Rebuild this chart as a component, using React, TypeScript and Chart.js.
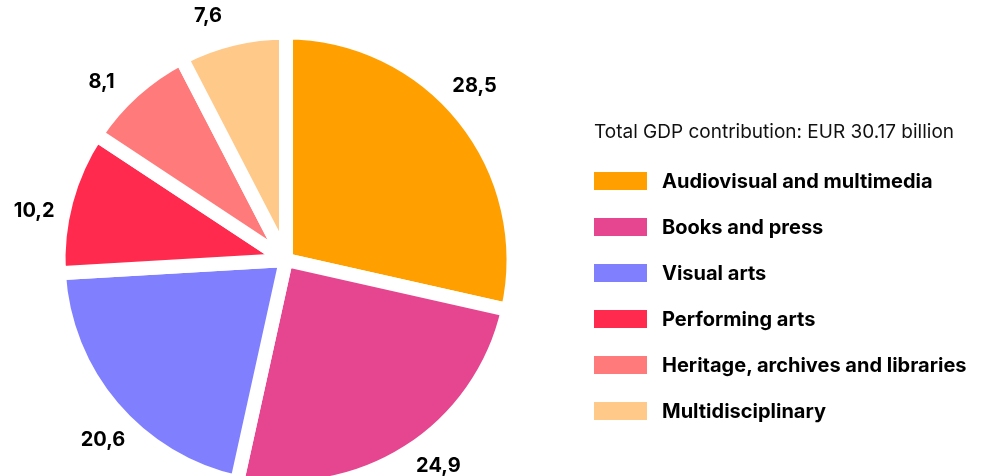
import React, { useEffect, useRef } from "react";
import { Chart, registerables } from "chart.js";

Chart.register(...registerables);

const categories = [
  "Audiovisual and multimedia",
  "Books and press",
  "Visual arts",
  "Performing arts",
  "Heritage, archives and libraries",
  "Multidisciplinary",
];
const values = [28.5, 24.9, 20.6, 10.2, 8.1, 7.6];
const colors = ["#FFA000", "#E5468F", "#8080FF", "#FF2A4D", "#FF7B7B", "#FFC98A"];
const legendTitle = "Total GDP contribution: EUR 30.17 billion";

const FONT = "Inter, 'DejaVu Sans', sans-serif";

const valueLabels = {
  id: "valueLabels",
  afterDatasetsDraw(chart: any) {
    const ctx = chart.ctx;
    const meta = chart.getDatasetMeta(0);
    ctx.save();
    ctx.font = `bold 20px ${FONT}`;
    ctx.fillStyle = "#000";
    ctx.textAlign = "center";
    ctx.textBaseline = "middle";
    meta.data.forEach((arc: any, i: number) => {
      const { x, y, startAngle, endAngle, outerRadius } = arc.getProps(
        ["x", "y", "startAngle", "endAngle", "outerRadius"],
        true
      );
      const mid = (startAngle + endAngle) / 2 - 0.07;
      const r = outerRadius + 29;
      const txt = values[i].toFixed(1).replace(".", ",");
      ctx.fillText(txt, x + Math.cos(mid) * r, y + Math.sin(mid) * r);
    });
    ctx.restore();
  },
};

export default function App() {
  const canvasRef = useRef<HTMLCanvasElement | null>(null);

  useEffect(() => {
    if (!canvasRef.current) return;
    const chart = new Chart(canvasRef.current, {
      type: "pie",
      data: {
        labels: categories,
        datasets: [
          {
            data: values,
            backgroundColor: colors,
            borderColor: "#ffffff",
            borderWidth: 14,
            hoverBorderWidth: 14,
          },
        ],
      },
      options: {
        responsive: false,
        animation: false,
        radius: 227.5,
        layout: {
          padding: { left: 51.5, top: 25.5, right: 466.5, bottom: 45.5 },
        },
        plugins: {
          legend: { display: false },
          tooltip: { enabled: false },
        },
      } as any,
      plugins: [valueLabels],
    });
    return () => chart.destroy();
  }, []);

  return (
    <div
      style={{
        position: "absolute",
        left: 0,
        top: 0,
        width: 987,
        height: 476,
        overflow: "hidden",
        background: "#fff",
        fontFamily: FONT,
      }}
    >
      <canvas
        ref={canvasRef}
        width={987}
        height={540}
        style={{ position: "absolute", left: 0, top: 0, width: 987, height: 540 }}
      />
      <div
        style={{
          position: "absolute",
          left: 594,
          top: 122,
          fontSize: 19,
          lineHeight: "20px",
          color: "#111",
          whiteSpace: "nowrap",
        }}
      >
        {legendTitle}
      </div>
      <div style={{ position: "absolute", left: 594, top: 158 }}>
        {categories.map((c, i) => (
          <div
            key={c}
            style={{ display: "flex", alignItems: "center", height: 46 }}
          >
            <div
              style={{ width: 53, height: 18, background: colors[i], flex: "none" }}
            />
            <div
              style={{
                marginLeft: 15,
                fontWeight: 700,
                fontSize: 20,
                color: "#000",
                whiteSpace: "nowrap",
              }}
            >
              {c}
            </div>
          </div>
        ))}
      </div>
    </div>
  );
}
